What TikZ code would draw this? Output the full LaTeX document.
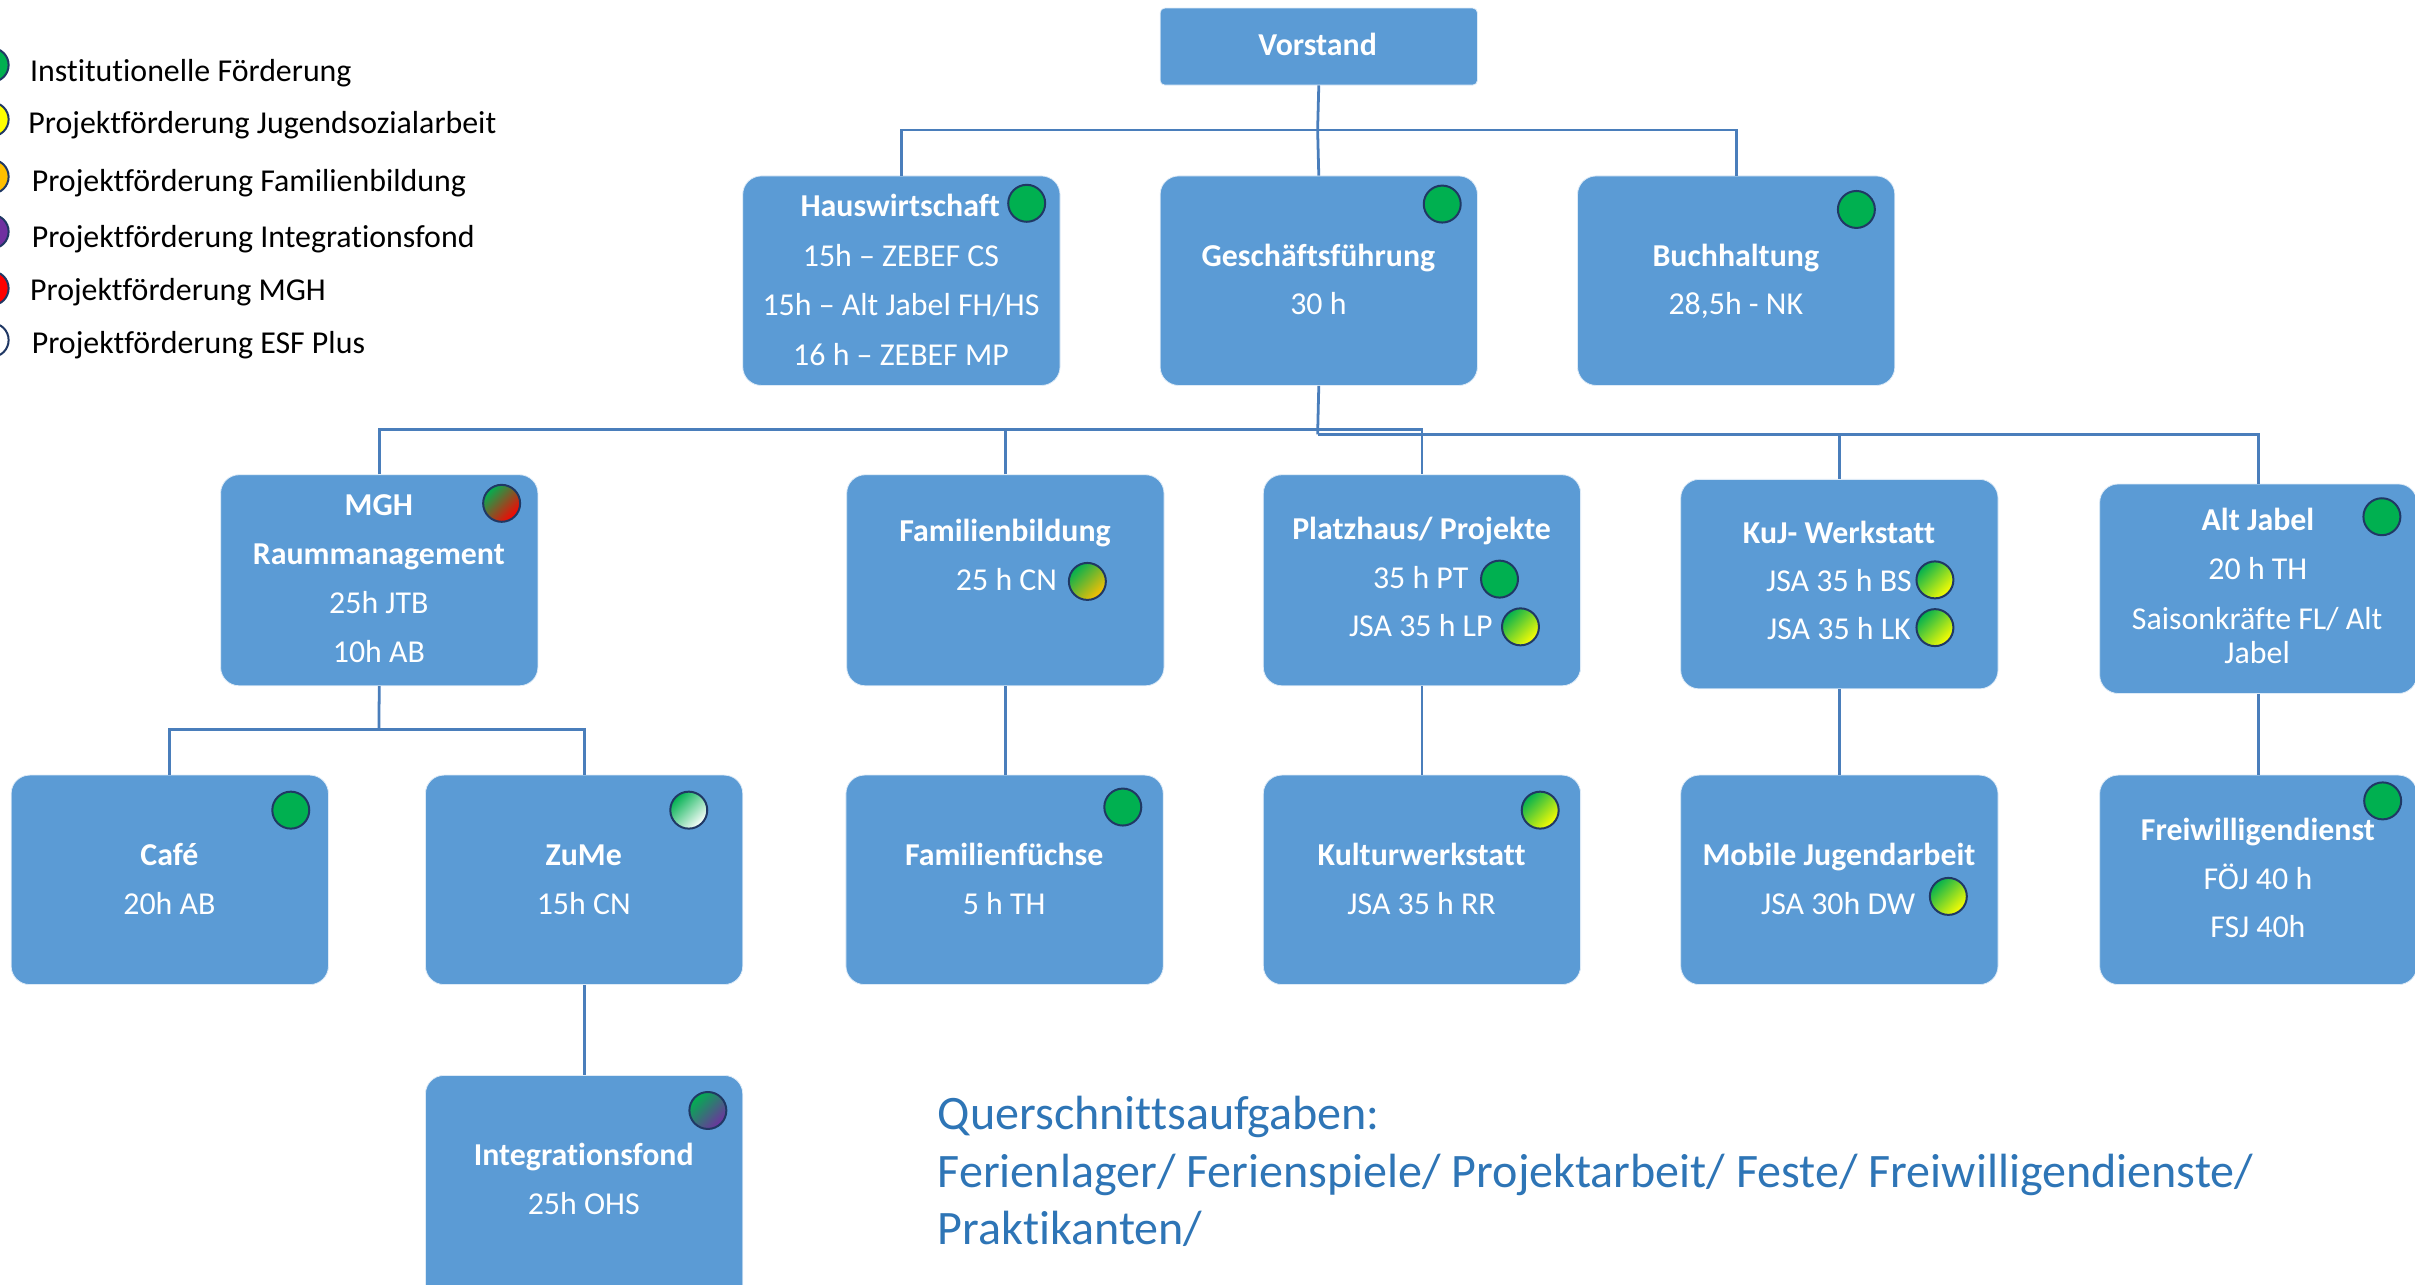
\documentclass[tikz,border=0pt]{standalone}
\usepackage{fontspec}
\setmainfont{Carlito}[Ligatures=NoCommon]
\definecolor{boxblue}{HTML}{5B9BD5}
\definecolor{lineblue}{HTML}{4A7EBB}
\definecolor{ring}{HTML}{203864}
\definecolor{fgreen}{HTML}{00B050}
\definecolor{fyellow}{HTML}{FFFF00}
\definecolor{forange}{HTML}{FFC000}
\definecolor{fpurple}{HTML}{7030A0}
\definecolor{fred}{HTML}{FF0000}
\definecolor{qblue}{HTML}{2E75B6}
\begin{document}
\begin{tikzpicture}[x=1pt,y=-1pt,
  orgbox/.style={rectangle, rounded corners=12pt, fill=boxblue, draw=white!80!boxblue, line width=0.5pt, inner sep=0pt, minimum width=206pt, minimum height=136pt, anchor=north west},
  hd/.style={anchor=base, text=white, inner sep=0pt, font=\fontsize{20.7}{24}\selectfont\bfseries},
  tx/.style={anchor=base, text=white, inner sep=0pt, font=\fontsize{20.7}{24}\selectfont},
  lg/.style={anchor=base west, text=black, inner sep=0pt, font=\fontsize{20.7}{24}\selectfont},
  qt/.style={anchor=base west, text=qblue, inner sep=0pt, font=\fontsize{31.2}{37}\selectfont},
  conn/.style={draw=lineblue, line width=1.8pt},
  dot/.style={circle, draw=ring, line width=1.3pt, minimum size=24pt, inner sep=0pt},
  mix/.style={dot, top color=fgreen, bottom color=#1, shading angle=45},
  plaindot/.style={dot, fill=#1},
  legdot/.style={circle, draw=ring, line width=1.3pt, minimum size=22pt, inner sep=0pt, fill=#1}
]
\useasboundingbox (0,0) rectangle (1568,834);
\clip (0,0) rectangle (1568,834);

% ---------- boxes ----------
\node[orgbox, minimum height=50pt, rounded corners=3pt] (vor) at (753,5) {};
\node[orgbox] (hw) at (482,114) {};
\node[orgbox] (gf) at (753,114) {};
\node[orgbox] (bh) at (1024,114) {};
\node[orgbox, minimum height=137pt] (mgh) at (143,308) {};
\node[orgbox, minimum height=137pt] (fb) at (549.5,308) {};
\node[orgbox, minimum height=137pt] (ph) at (820,308) {};
\node[orgbox] (kuj) at (1091,311) {};
\node[orgbox] (aj) at (1363,314) {};
\node[orgbox] (cafe) at (7,503) {};
\node[orgbox] (zume) at (276,503) {};
\node[orgbox] (ff) at (549,503) {};
\node[orgbox] (kw) at (820,503) {};
\node[orgbox] (mj) at (1091,503) {};
\node[orgbox] (fd) at (1363,503) {};
\node[orgbox, minimum height=150pt] (if) at (276,698) {};

% ---------- connectors ----------
\coordinate (j1) at (855.5,84.4);
\coordinate (j2) at (855.5,279);
\coordinate (j3) at (855.5,282);
\coordinate (j4) at (246,473.5);
\draw[conn] (vor.south) -- (j1);
\draw[conn] (hw.north) |- (j1) -| (bh.north);
\draw[conn] (j1) -- (gf.north);
\draw[conn] (gf.south) -- (j3);
\draw[conn] (mgh.north) |- (j2) -| (ph.north);
\draw[conn] (fb.north) |- (j2);
\draw[conn] (j3) -| (aj.north);
\draw[conn] (kuj.north) |- (j3);
\draw[conn] (mgh.south) -- (j4);
\draw[conn] (cafe.north) |- (j4) -| (zume.north);
\draw[conn] (fb.south) -- (fb.south |- ff.north);
\draw[conn] (ph.south) -- (ph.south |- kw.north);
\draw[conn] (kuj.south) -- (kuj.south |- mj.north);
\draw[conn] (aj.south) -- (aj.south |- fd.north);
\draw[conn] (zume.south) -- (zume.south |- if.north);

% ---------- texts ----------
\node[hd] (tvor) at (855.5,36) {Vorstand};

\node[hd] (thw1) at (584.5,140.5) {Hauswirtschaft};
\node[tx] (thw2) at (585,173) {15h – ZEBEF CS};
\node[tx] (thw3) at (585,205) {15h – Alt Jabel FH/HS};
\node[tx] (thw4) at (585,237.5) {16 h – ZEBEF MP};

\node[hd] (tgf1) at (856,173) {Geschäftsführung};
\node[tx] (tgf2) at (856,204.5) {30 h};

\node[hd] (tbh1) at (1127,173) {Buchhaltung};
\node[tx] (tbh2) at (1127,204.5) {28,5h - NK};

\node[hd] (tmgh1) at (246,334.5) {MGH};
\node[hd] (tmgh2) at (246,366.5) {Raummanagement};
\node[tx] (tmgh3) at (246,398.5) {25h JTB};
\node[tx] (tmgh4) at (246,430) {10h AB};

\node[hd] (tfb1) at (652.5,351.5) {Familienbildung};
\node[tx] (tfb2) at (653.5,383.4) {25 h CN};

\node[hd] (tph1) at (923,350.6) {Platzhaus/ Projekte};
\node[tx] (tph2) at (922.4,382) {35 h PT};
\node[tx] (tph3) at (922.5,413.4) {JSA 35 h LP};

\node[hd] (tkuj1) at (1194,352.8) {KuJ- Werkstatt};
\node[tx] (tkuj2) at (1194,384.2) {JSA 35 h BS};
\node[tx] (tkuj3) at (1194,415.5) {JSA 35 h LK};

\node[hd] (taj1) at (1466,344.5) {Alt Jabel};
\node[tx] (taj2) at (1466,376.5) {20 h TH};
\node[tx] (taj3) at (1465.5,408.5) {Saisonkräfte FL/ Alt};
\node[tx] (taj4) at (1465.5,431) {Jabel};

\node[hd] (tcafe1) at (110,562) {Café};
\node[tx] (tcafe2) at (110,593.5) {20h AB};

\node[hd] (tzume1) at (379,562) {ZuMe};
\node[tx] (tzume2) at (379,593.5) {15h CN};

\node[hd] (tff1) at (652,562) {Familienfüchse};
\node[tx] (tff2) at (652,593.5) {5 h TH};

\node[hd] (tkw1) at (923,562) {Kulturwerkstatt};
\node[tx] (tkw2) at (923,593.5) {JSA 35 h RR};

\node[hd] (tmj1) at (1194,562) {Mobile Jugendarbeit};
\node[tx] (tmj2) at (1193.5,593.5) {JSA 30h DW};

\node[hd] (tfd1) at (1466,545.5) {Freiwilligendienst};
\node[tx] (tfd2) at (1466,577.5) {FÖJ 40 h};
\node[tx] (tfd3) at (1466,609) {FSJ 40h};

\node[hd] (tif1) at (379,757) {Integrationsfond};
\node[tx] (tif2) at (379,788.5) {25h OHS};

% ---------- funding dots ----------
\node[plaindot=fgreen] (dhw) at (666.6,132) {};
\node[plaindot=fgreen] (dgf) at (936.4,132.5) {};
\node[plaindot=fgreen] (dbh) at (1205.3,136) {};
\node[mix=fred] (dmgh) at (325.7,326.8) {};
\node[mix=forange] (dfb) at (706,377.5) {};
\node[plaindot=fgreen] (dph1) at (973.6,376) {};
\node[mix=fyellow] (dph2) at (987.2,407) {};
\node[mix=fyellow] (dkuj1) at (1256.3,376.5) {};
\node[mix=fyellow] (dkuj2) at (1256.3,407.5) {};
\node[plaindot=fgreen] (daj) at (1546.5,335.5) {};
\node[plaindot=fgreen] (dcafe) at (188.8,526) {};
\node[mix=white] (dzume) at (447.2,526) {};
\node[plaindot=fgreen] (dff) at (729,524) {};
\node[mix=fyellow] (dkw) at (1000,526) {};
\node[mix=fyellow] (dmj) at (1265,582) {};
\node[plaindot=fgreen] (dfd) at (1547,520) {};
\node[mix=fpurple] (dif) at (459.6,721) {};

% ---------- legend ----------
\node[legdot=fgreen] (l1) at (-5.4,42.2) {};
\node[legdot=fyellow] (l2) at (-5.4,77.5) {};
\node[legdot=forange] (l3) at (-5.4,114.7) {};
\node[legdot=fpurple] (l4) at (-5.4,150.4) {};
\node[legdot=fred] (l5) at (-5.4,187.2) {};
\node[legdot=white] (l6) at (-5.4,220.8) {};
\node[lg] (lt1) at (19.4,53) {Institutionelle Förderung};
\node[lg] (lt2) at (18.3,87) {Projektförderung Jugendsozialarbeit};
\node[lg] (lt3) at (20.5,124.4) {Projektförderung Familienbildung};
\node[lg] (lt4) at (20.5,160.6) {Projektförderung Integrationsfond};
\node[lg] (lt5) at (19.4,195.2) {Projektförderung MGH};
\node[lg] (lt6) at (20.5,229.4) {Projektförderung ESF Plus};

% ---------- cross-cutting tasks ----------
\node[qt] (q1) at (608.7,733.2) {Querschnittsaufgaben:};
\node[qt] (q2) at (608.7,771.1) {Ferienlager/ Ferienspiele/ Projektarbeit/ Feste/ Freiwilligendienste/};
\node[qt] (q3) at (608.7,808.3) {Praktikanten/};
\end{tikzpicture}
\end{document}
